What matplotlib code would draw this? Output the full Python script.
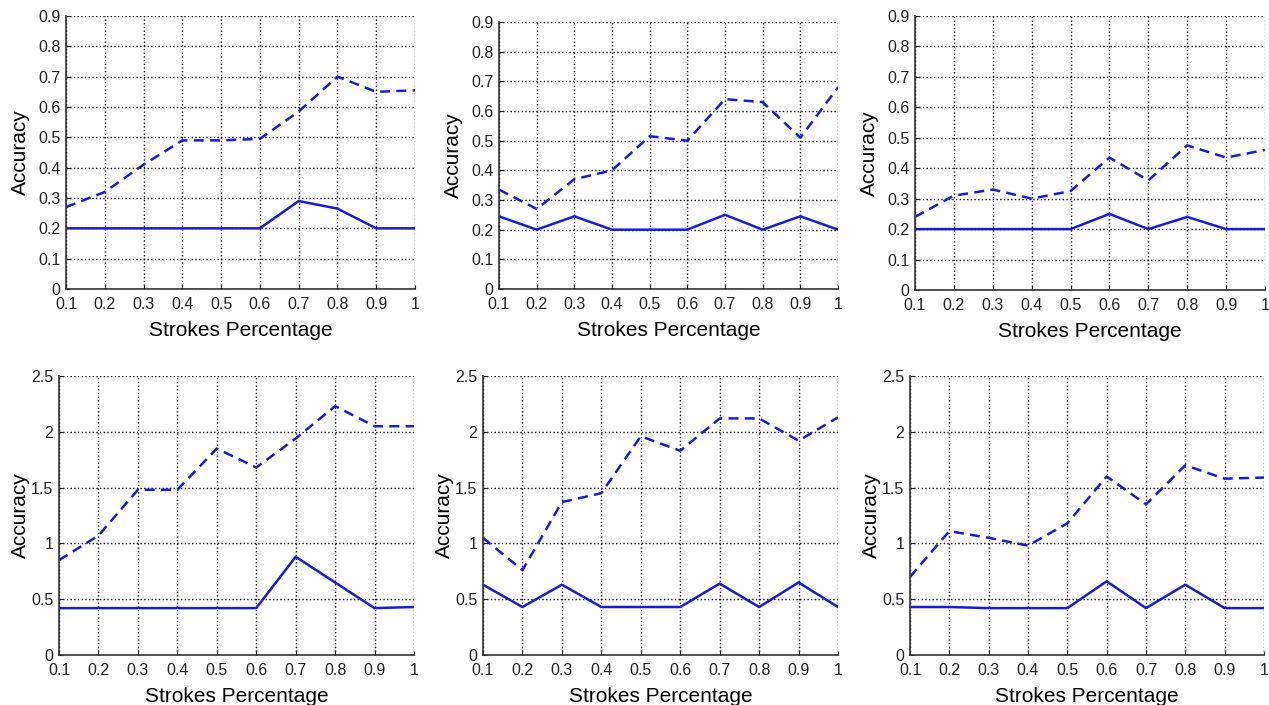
import matplotlib
matplotlib.use("Agg")
import matplotlib.pyplot as plt

plt.rcParams['font.family'] = ['Liberation Sans', 'DejaVu Sans']

x = [0.1, 0.2, 0.3, 0.4, 0.5, 0.6, 0.7, 0.8, 0.9, 1.0]
xticklabels = ["0.1", "0.2", "0.3", "0.4", "0.5", "0.6", "0.7", "0.8", "0.9", "1"]

# top row
dashed1 = [0.27, 0.32, 0.41, 0.49, 0.49, 0.495, 0.585, 0.70, 0.65, 0.655]
solid1 = [0.20, 0.20, 0.20, 0.20, 0.20, 0.20, 0.29, 0.265, 0.20, 0.20]
dashed2 = [0.335, 0.27, 0.37, 0.40, 0.515, 0.50, 0.64, 0.63, 0.51, 0.68]
solid2 = [0.245, 0.20, 0.245, 0.20, 0.20, 0.20, 0.25, 0.20, 0.245, 0.20]
dashed3 = [0.24, 0.31, 0.33, 0.30, 0.325, 0.435, 0.36, 0.475, 0.435, 0.46]
solid3 = [0.20, 0.20, 0.20, 0.20, 0.20, 0.25, 0.20, 0.24, 0.20, 0.20]

# bottom row
dashed4 = [0.85, 1.07, 1.48, 1.48, 1.85, 1.68, 1.94, 2.23, 2.05, 2.05]
solid4 = [0.42, 0.42, 0.42, 0.42, 0.42, 0.42, 0.88, 0.65, 0.42, 0.43]
dashed5 = [1.05, 0.76, 1.37, 1.45, 1.96, 1.83, 2.12, 2.12, 1.92, 2.13]
solid5 = [0.63, 0.43, 0.63, 0.43, 0.43, 0.43, 0.64, 0.43, 0.65, 0.43]
dashed6 = [0.70, 1.11, 1.05, 0.98, 1.18, 1.60, 1.35, 1.70, 1.58, 1.59]
solid6 = [0.43, 0.43, 0.42, 0.42, 0.42, 0.66, 0.42, 0.63, 0.42, 0.42]

top_yticks = [0, 0.1, 0.2, 0.3, 0.4, 0.5, 0.6, 0.7, 0.8, 0.9]
top_ylabels = ["0", "0.1", "0.2", "0.3", "0.4", "0.5", "0.6", "0.7", "0.8", "0.9"]
bot_yticks = [0, 0.5, 1, 1.5, 2, 2.5]
bot_ylabels = ["0", "0.5", "1", "1.5", "2", "2.5"]

W, H = 1269, 705
fig = plt.figure(figsize=(W / 100, H / 100), dpi=100)

# panel boxes in pixels: left, top, right, bottom
boxes = [
    (66, 16, 415, 289), (499, 22, 838, 289), (915, 16, 1265, 290),
    (59, 376, 414, 655), (483, 376, 838, 655), (910, 376, 1264, 655),
]
panels = [
    (dashed1, solid1), (dashed2, solid2), (dashed3, solid3),
    (dashed4, solid4), (dashed5, solid5), (dashed6, solid6),
]
blue = "#1a1adb"

for i, ((l, t, r, b), (dd, ss)) in enumerate(zip(boxes, panels)):
    ax = fig.add_axes([l / W, 1 - b / H, (r - l) / W, (b - t) / H])
    ax.plot(x, dd, linestyle="--", color=blue, linewidth=1.8, dashes=(4, 2.5))
    ax.plot(x, ss, linestyle="-", color=blue, linewidth=1.8)
    ax.set_xlim(0.1, 1.0)
    ax.set_xticks(x)
    ax.set_xticklabels(xticklabels)
    if i < 3:
        ax.set_ylim(0, 0.9)
        ax.set_yticks(top_yticks)
        ax.set_yticklabels(top_ylabels)
        ypad = 6
    else:
        ax.set_ylim(0, 2.5)
        ax.set_yticks(bot_yticks)
        ax.set_yticklabels(bot_ylabels)
        ypad = 1
    ax.grid(True, color="black", linestyle=":", linewidth=1.0)
    for s in ["top", "right"]:
        ax.spines[s].set_visible(False)
    for s in ["left", "bottom"]:
        ax.spines[s].set_color("#333333")
        ax.spines[s].set_linewidth(1.2)
    ax.tick_params(direction="in", length=3, labelsize=11.5, colors="#222222")
    ax.tick_params(axis="x", pad=6)
    ax.tick_params(axis="y", pad=4)
    ax.set_ylabel("Accuracy", fontsize=15, labelpad=ypad)
    ax.set_xlabel("Strokes Percentage", fontsize=15, labelpad=6)

fig.savefig("out.png", dpi=100)
